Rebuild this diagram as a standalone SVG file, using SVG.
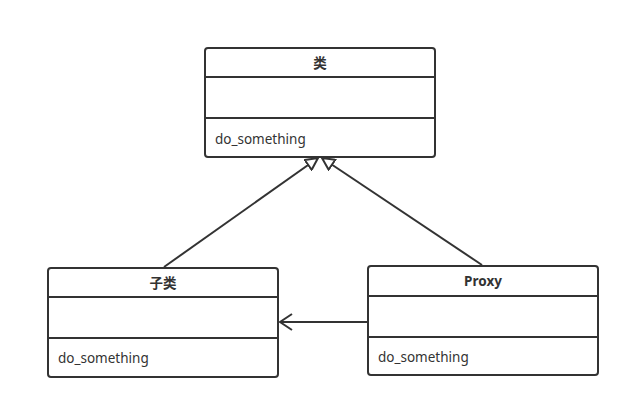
<svg xmlns="http://www.w3.org/2000/svg" width="630" height="409" viewBox="0 0 630 409">
<defs>
<style>
.box{fill:#fff;stroke:#333;stroke-width:2}
.sep{stroke:#333;stroke-width:2;fill:none}
.t{font-family:"Noto Sans","Noto Sans CJK SC",sans-serif;font-size:13.5px;fill:#333}
.h{font-weight:bold;text-anchor:middle}
.edge{stroke:#333;stroke-width:2;fill:none}
</style>
<marker id="tri" viewBox="0 0 14 14" refX="13" refY="7" markerWidth="14" markerHeight="14" markerUnits="userSpaceOnUse" orient="auto">
<path d="M1,1 L13,7 L1,13 Z" fill="#fff" stroke="#333" stroke-width="2"/>
</marker>
<marker id="open" viewBox="0 0 14 20" refX="13" refY="10" markerWidth="14" markerHeight="20" markerUnits="userSpaceOnUse" orient="auto">
<path d="M1,2 L13,10 L1,18" fill="none" stroke="#333" stroke-width="2"/>
</marker>
</defs>
<rect width="630" height="409" fill="#fff"/>
<g id="class">
<rect class="box" x="205" y="48" width="230" height="109" rx="3"/>
<line class="sep" x1="205" y1="77" x2="435" y2="77"/>
<line class="sep" x1="205" y1="118" x2="435" y2="118"/>
<text class="t h" x="320" y="68">类</text>
<text class="t" x="215" y="144">do_something</text>
</g>
<g id="subclass">
<rect class="box" x="48" y="268" width="230" height="109" rx="3"/>
<line class="sep" x1="48" y1="297" x2="278" y2="297"/>
<line class="sep" x1="48" y1="338" x2="278" y2="338"/>
<text class="t h" x="163" y="288">子类</text>
<text class="t" x="58" y="363">do_something</text>
</g>
<g id="proxy">
<rect class="box" x="368" y="266" width="230" height="109" rx="3"/>
<line class="sep" x1="368" y1="296" x2="598" y2="296"/>
<line class="sep" x1="368" y1="337" x2="598" y2="337"/>
<text class="t h" x="483" y="286">Proxy</text>
<text class="t" x="378" y="362">do_something</text>
</g>
<g id="edges">
<line class="edge" x1="164" y1="267" x2="318" y2="158" marker-end="url(#tri)"/>
<line class="edge" x1="482" y1="265" x2="322" y2="158" marker-end="url(#tri)"/>
<line class="edge" x1="367" y1="322" x2="280" y2="322" marker-end="url(#open)"/>
</g>
</svg>
